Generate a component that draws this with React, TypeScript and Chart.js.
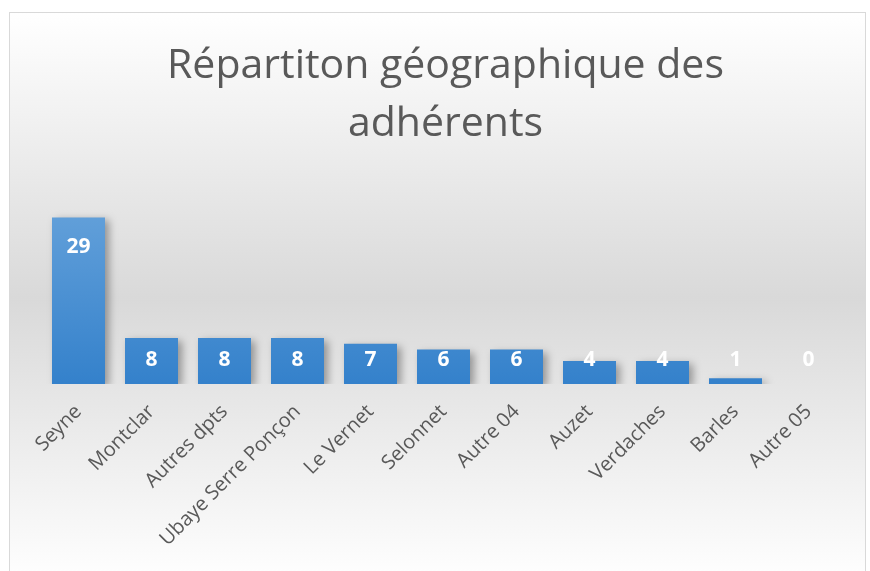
import React, { useEffect, useRef } from "react";
import { Chart, registerables } from "chart.js";

Chart.register(...registerables);

const categories = [
  "Seyne",
  "Montclar",
  "Autres dpts",
  "Ubaye Serre Ponçon",
  "Le Vernet",
  "Selonnet",
  "Autre 04",
  "Auzet",
  "Verdaches",
  "Barles",
  "Autre 05",
];
const values = [29, 8, 8, 8, 7, 6, 6, 4, 4, 1, 0];
const titleLines = ["Répartiton géographique des", "adhérents"];

const FONT = "'Open Sans', 'Noto Sans', sans-serif";

export default function App() {
  const ref = useRef<HTMLCanvasElement | null>(null);

  useEffect(() => {
    if (!ref.current) return;
    const W = 855;
    const H = 570;

    const bgPlugin = {
      id: "bg",
      beforeDraw(chart: any) {
        const { ctx, width, height } = chart;
        ctx.save();
        const g = ctx.createLinearGradient(0, 0, 0, height);
        g.addColorStop(0, "#ffffff");
        g.addColorStop(0.5, "#d9d9d9");
        g.addColorStop(1, "#ffffff");
        ctx.fillStyle = g;
        ctx.fillRect(0, 0, width, height);
        ctx.fillStyle = "#595959";
        ctx.font = `41px ${FONT}`;
        ctx.textAlign = "center";
        ctx.textBaseline = "middle";
        ctx.fillText(titleLines[0], width / 2 + 8, 53);
        ctx.fillText(titleLines[1], width / 2 + 8, 111);
        ctx.restore();
      },
    };

    const shadowPlugin = {
      id: "shadow",
      beforeDatasetsDraw(chart: any) {
        const ctx = chart.ctx;
        ctx.save();
        ctx.shadowColor = "rgba(0,0,0,0.35)";
        ctx.shadowBlur = 8;
        ctx.shadowOffsetX = 4;
        ctx.shadowOffsetY = 3;
      },
      afterDatasetsDraw(chart: any) {
        chart.ctx.restore();
      },
    };

    const labelPlugin = {
      id: "vlabels",
      afterDraw(chart: any) {
        const ctx = chart.ctx;
        const meta = chart.getDatasetMeta(0);
        ctx.save();
        ctx.fillStyle = "#ffffff";
        ctx.font = `bold 21px ${FONT}`;
        ctx.textAlign = "center";
        ctx.textBaseline = "middle";
        meta.data.forEach((el: any, i: number) => {
          const y = Math.min(el.y + 30, el.base - 24);
          ctx.fillText(String(values[i]), el.x, y);
        });
        ctx.restore();
      },
    };

    const chart = new Chart(ref.current, {
      type: "bar",
      data: {
        labels: categories,
        datasets: [
          {
            data: values,
            backgroundColor: (c: any) => {
              const area = c.chart.chartArea;
              if (!area) return "#4a8fd3";
              const g = c.chart.ctx.createLinearGradient(0, area.top, 0, area.bottom);
              g.addColorStop(0, "#6aa5dc");
              g.addColorStop(1, "#3481cb");
              return g;
            },
            borderWidth: 0,
            categoryPercentage: 1,
            barPercentage: 0.726,
          },
        ],
      },
      options: {
        responsive: false,
        animation: false,
        layout: { padding: { top: 170, left: 32, right: 20, bottom: 0 } },
        plugins: {
          legend: { display: false },
          tooltip: { enabled: false },
          title: { display: false },
        },
        scales: {
          y: { display: false, min: 0, max: 35 },
          x: {
            grid: { display: false, drawTicks: false },
            border: { display: false },
            ticks: {
              color: "#595959",
              font: { size: 20, family: FONT },
              minRotation: 45,
              maxRotation: 45,
              padding: 16,
              autoSkip: false,
            },
            afterFit(scale: any) {
              scale.height = H - 371;
            },
          },
        },
      },
      plugins: [bgPlugin, shadowPlugin, labelPlugin],
    });
    return () => chart.destroy();
  }, []);

  return (
    <div
      style={{
        position: "absolute",
        left: 9,
        top: 12,
        width: 857,
        height: 572,
        border: "1px solid #d9d9d9",
        boxSizing: "border-box",
      }}
    >
      <canvas ref={ref} width={855} height={570} style={{ display: "block" }} />
    </div>
  );
}
